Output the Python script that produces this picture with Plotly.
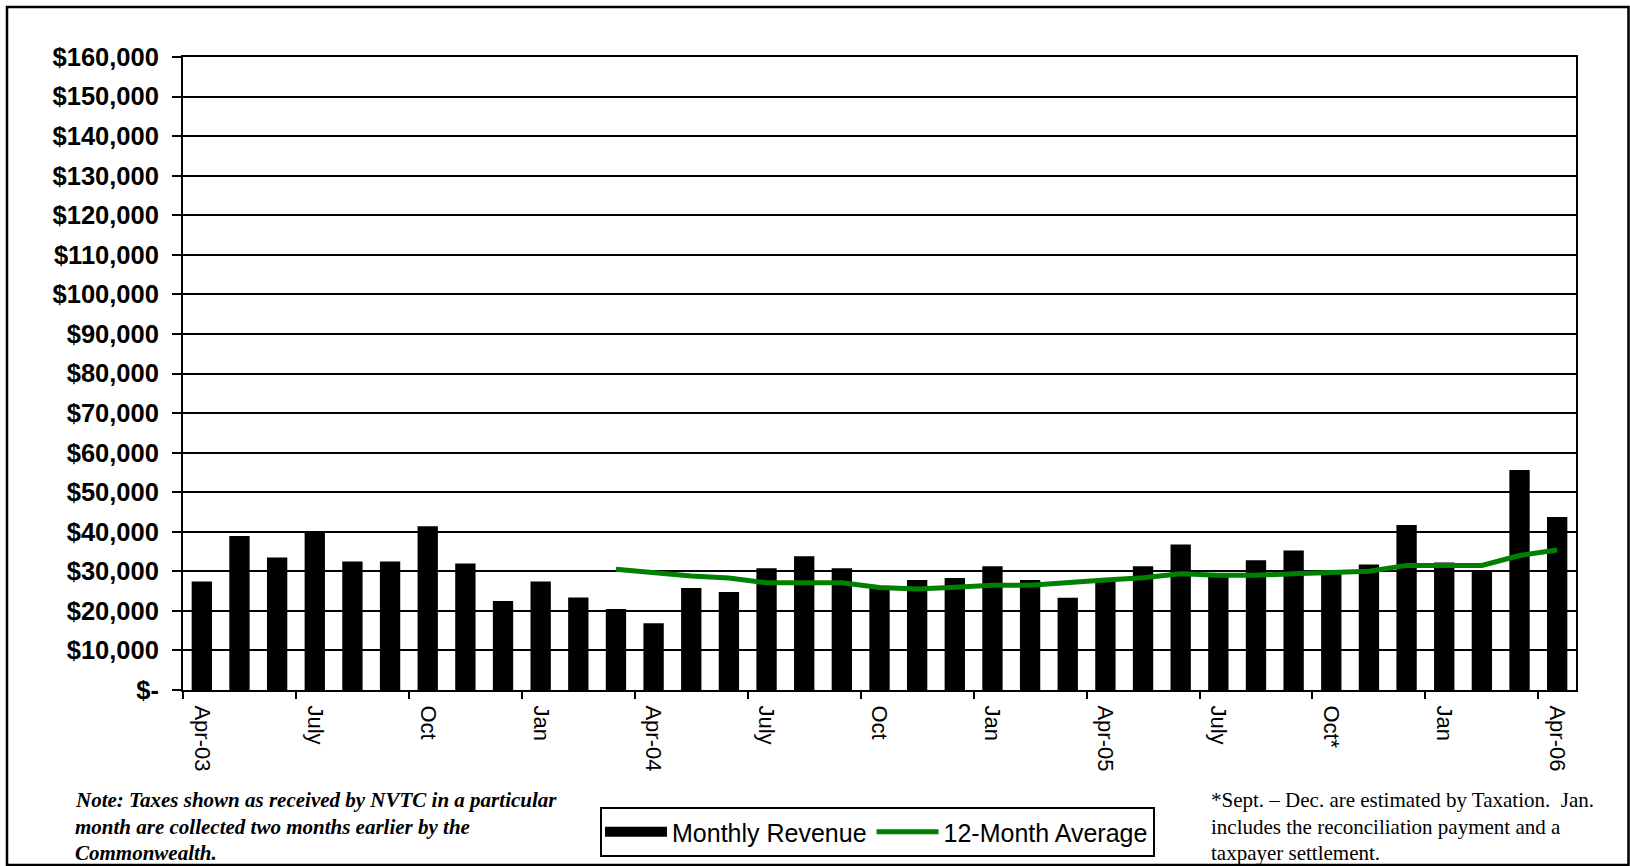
import plotly.graph_objects as go

# Monthly revenue, Apr-03 through Apr-06
months = [
    "Apr-03", "May-03", "Jun-03", "Jul-03", "Aug-03", "Sep-03", "Oct-03", "Nov-03", "Dec-03",
    "Jan-04", "Feb-04", "Mar-04", "Apr-04", "May-04", "Jun-04", "Jul-04", "Aug-04", "Sep-04",
    "Oct-04", "Nov-04", "Dec-04", "Jan-05", "Feb-05", "Mar-05", "Apr-05", "May-05", "Jun-05",
    "Jul-05", "Aug-05", "Sep-05", "Oct-05", "Nov-05", "Dec-05", "Jan-06", "Feb-06", "Mar-06",
    "Apr-06",
]
monthly_revenue = [
    27400, 38900, 33500, 40200, 32500, 32500, 41400, 32000, 22500,
    27400, 23400, 20500, 16900, 25800, 24800, 30800, 33800, 30800,
    25800, 27800, 28300, 31300, 27800, 23300, 28000, 31300, 36750,
    29000, 32800, 35250, 29800, 31750, 41700, 32250, 30000, 55600,
    43700,
]
# 12-month average, available from Mar-04 onward
avg_start = 11
twelve_month_avg = [
    30500, 29600, 28800, 28300, 27100, 27100, 27100, 25900, 25500,
    26000, 26500, 26500, 27000, 27800, 28400, 29400, 29000, 29000,
    29400, 29800, 30000, 31500, 31500, 31500, 34000, 35400,
]
tick_labels = ["Apr-03", "July", "Oct", "Jan", "Apr-04", "July", "Oct", "Jan",
               "Apr-05", "July", "Oct*", "Jan", "Apr-06"]
y_ticks = list(range(0, 160001, 10000))
y_tick_text = ["$-"] + [f"${v:,}" for v in y_ticks[1:]]

note_left = [
    "Note: Taxes shown as received by NVTC in a particular",
    "month are collected two months earlier by the",
    "Commonwealth.",
]
note_right = [
    "*Sept. \u2013 Dec. are estimated by Taxation.\u00a0 Jan.",
    "includes the reconciliation payment and a",
    "taxpayer settlement.",
]

x_idx = list(range(len(months)))
avg_x = x_idx[avg_start:]
label_step = 3

W, H = 1630, 866
L, R, T, B = 183, 1576, 57, 690   # plot area in pixels
pw, ph = R - L, B - T


def px_x(p):
    return (p - L) / pw


def px_y(p):
    return (B - p) / ph


fig = go.Figure()
fig.add_trace(go.Bar(
    x=x_idx, y=monthly_revenue, name="Monthly Revenue",
    marker=dict(color="black", line=dict(width=0)),
    hovertext=months, legendgroup="rev", showlegend=False,
))
# Wide black swatch for the revenue legend entry
fig.add_trace(go.Scatter(
    x=[None], y=[None], name="Monthly Revenue", mode="lines",
    line=dict(color="black", width=18), legendgroup="rev", hoverinfo="skip",
))
fig.add_trace(go.Scatter(
    x=avg_x, y=twelve_month_avg, name="12-Month Average", mode="lines",
    line=dict(color="#008000", width=5),
    hovertext=months[avg_start:],
))

fig.update_layout(
    width=W, height=H,
    margin=dict(l=L, r=W - R, t=T, b=H - B, pad=0),
    paper_bgcolor="white", plot_bgcolor="white",
    bargap=0.46,
    font=dict(family="Liberation Sans, Arial, sans-serif", color="black"),
    showlegend=True,
    legend=dict(
        orientation="h", xref="container", yref="container",
        x=600 / W, y=1 - 807 / H, xanchor="left", yanchor="top",
        font=dict(size=25, family="Liberation Sans, Arial, sans-serif"),
        bordercolor="black", borderwidth=2, bgcolor="white",
        itemwidth=62, tracegroupgap=0,
    ),
)

# Category boundaries every third month carry the tick marks
boundary_ticks = [v - 0.5 for v in x_idx[::label_step]][:-1] + [x_idx[-1] - 0.5]

fig.update_xaxes(
    range=[-0.5, len(months) - 0.5],
    tickmode="array",
    tickvals=x_idx[::label_step],
    ticktext=tick_labels,
    tickangle=90,
    ticks="",
    tickfont=dict(size=22, family="Liberation Sans, Arial, sans-serif"),
    showgrid=False, zeroline=False,
    showline=True, linecolor="black", linewidth=2, mirror=True,
    minor=dict(
        tickmode="array", tickvals=boundary_ticks,
        ticks="outside", ticklen=7, tickwidth=2, tickcolor="black",
        showgrid=False,
    ),
    ticklabelstandoff=9,
)
fig.update_yaxes(
    range=[0, 160000],
    tickmode="array", tickvals=y_ticks, ticktext=y_tick_text,
    tickfont=dict(size=25.5, family="Liberation Sans, Arial, sans-serif", weight="bold"),
    ticks="outside", ticklen=9, tickwidth=2, tickcolor="black",
    showgrid=True, gridcolor="black", gridwidth=1.6,
    zeroline=False,
    showline=True, linecolor="black", linewidth=2, mirror=True,
    ticklabelstandoff=8,
)

# Outer chart frame
fig.add_shape(
    type="rect", xref="paper", yref="paper", layer="below",
    x0=px_x(7), x1=px_x(1628.5), y0=px_y(865), y1=px_y(7),
    line=dict(color="black", width=2.5), fillcolor="rgba(0,0,0,0)",
)

# Footnotes, one annotation per line for even line spacing
serif = "Liberation Serif, Times New Roman, serif"
line_centers = [800, 827, 853]
for text, yc in zip(note_left, line_centers):
    fig.add_annotation(
        xref="paper", yref="paper", x=px_x(73), y=px_y(yc),
        xanchor="left", yanchor="middle", align="left", showarrow=False,
        text=f"<b><i>{text}</i></b>",
        font=dict(size=21, family=serif, color="black"),
    )
for text, yc in zip(note_right, line_centers):
    fig.add_annotation(
        xref="paper", yref="paper", x=px_x(1209), y=px_y(yc),
        xanchor="left", yanchor="middle", align="left", showarrow=False,
        text=text,
        font=dict(size=21, family=serif, color="black"),
    )

fig.write_html("out.html")
